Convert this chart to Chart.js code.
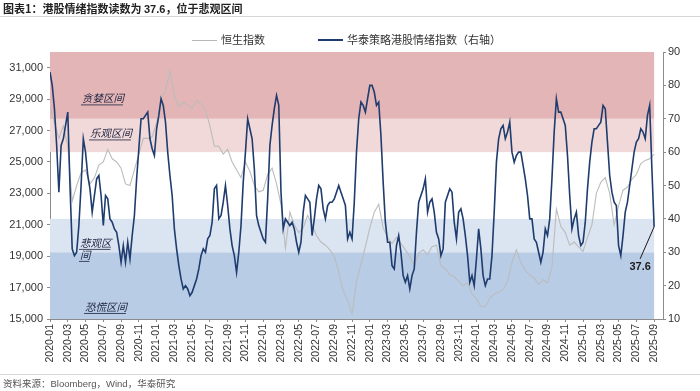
<!DOCTYPE html>
<html>
<head>
<meta charset="utf-8">
<script src="https://cdn.jsdelivr.net/npm/chart.js@4.4.0/dist/chart.umd.min.js"></script>
<style>
  html, body { margin: 0; padding: 0; background: #fff; }
  #wrap { position: relative; width: 700px; height: 391px; overflow: hidden; font-family: "Noto Sans CJK SC", "Liberation Sans", sans-serif; }
  #c { position: absolute; left: 0; top: 0; }
  .title { position: absolute; left: 3px; top: 0px; font-size: 11px; font-weight: bold; color: #222; white-space: nowrap; line-height: 16px; }
  .title b { font-family: "Liberation Sans", Arial, sans-serif; }
  .rule { position: absolute; left: 0; width: 700px; height: 1px; background: #d6d6d6; }
  .legend { position: absolute; top: 31px; font-size: 11px; color: #333; white-space: nowrap; line-height: 16px; }
  .legend span.ln { display: inline-block; width: 25px; vertical-align: middle; margin-right: 4px; position: relative; top: -1px; }
  .source { position: absolute; left: 3px; top: 376px; font-size: 9.5px; color: #555; white-space: nowrap; line-height: 14px; }
  .source .en { font-family: "Liberation Sans", Arial, sans-serif; }
</style>
</head>
<body>
<div id="wrap">
  <canvas id="c" width="700" height="391"></canvas>
  <div class="title">图表1：港股情绪指数读数为 <b>37.6</b>，位于悲观区间</div>
  <div class="rule" style="top:16px;"></div>
  <div class="legend" style="left:192px;"><span class="ln" style="border-top:1.5px solid #b7b7b7;"></span>恒生指数</div>
  <div class="legend" style="left:318px;"><span class="ln" style="border-top:2px solid #1f3c6e;"></span>华泰策略港股情绪指数（右轴）</div>
  <div class="rule" style="top:374px;"></div>
  <div class="source">资料来源：<span class="en">Bloomberg</span>，<span class="en">Wind</span>，华泰研究</div>
</div>
<script>
// ---- data ----
// Start month: 2020-01 ; sentiment sampled every quarter month, HSI every half month
const startYear = 2020;
const sentimentStep = 0.25;   // months between sentiment readings
const hsiStep = 0.5;          // months between HSI readings

const sentiment = [
  84, 80, 73, 62, 48, 62, 64, 68, 72, 50, 31, 29,
  30, 38, 50, 64,
  60, 53, 49, 42,
  47, 52, 53, 47,
  38, 47, 46, 40,
  39, 37, 36, 32,
  27, 32, 27, 33,
  28, 35, 41, 52,
  61, 70, 70, 71,
  72, 64, 61, 59,
  67, 71, 76, 74,
  69, 60, 53, 47,
  37, 31, 26, 22,
  19, 20, 19, 17,
  18, 20, 22, 25,
  29, 31, 30, 34,
  35, 39, 49, 50,
  40, 41, 45, 50,
  44, 37, 32, 29,
  24, 30, 38, 51,
  60, 70, 67, 64,
  55, 41, 38, 36,
  34, 33, 46, 62,
  68, 73, 77, 74,
  48, 37, 40, 39,
  38, 39, 37, 33,
  30, 33, 42, 47,
  46, 45, 35, 40,
  46, 50, 49, 43,
  40, 44, 45, 45,
  46, 48, 50, 48,
  46, 44, 34, 36,
  34, 45, 60, 70,
  75, 74, 72, 76,
  80, 80, 78, 74,
  75, 65, 51, 39,
  33, 33, 26, 25,
  32, 35, 30, 23,
  21, 23, 19, 23,
  25, 36, 45, 47,
  49, 52, 42, 45,
  46, 42, 36, 34,
  29, 31, 45, 47,
  49, 48, 39, 34,
  42, 43, 40, 35,
  29, 21, 23, 20,
  28, 37, 31, 23,
  20, 22, 22, 29,
  42, 57, 64, 67,
  68, 64, 66, 69,
  60, 57, 59, 60,
  60, 56, 52, 47,
  40, 40, 34, 33,
  30, 27, 30, 37,
  35, 40, 52, 66,
  76, 72, 72, 70,
  68, 59, 47, 37,
  40, 42, 35, 32,
  33, 39, 49, 57,
  63, 67, 67, 68,
  69, 74, 73, 63,
  53, 48, 45, 44,
  32, 29, 35, 42,
  45, 50, 55, 60,
  63, 64, 67, 66,
  64, 71, 74, 55,
  37.6
];

const hsi = [
  28500, 27500, 26500, 27300, 26000, 22500, 23500, 24300, 24500, 23600,
  24000, 24800, 25000, 25800, 25200, 25000, 24600, 23600, 23500, 24500,
  25500, 26500, 26500, 26600, 27500, 29000, 29600, 30800, 29200, 28500,
  28800, 28600, 28400, 28900, 28700, 28300, 27300, 26000, 26000, 25500,
  25800, 25000, 24500, 24000, 25000, 24400, 23500, 23100, 23200, 24200,
  24600, 23600, 22300, 19500, 21800, 21000, 20500, 20800, 21600, 21000,
  20300, 19900, 19700, 19400, 19000, 18000, 16800, 16200, 15300, 17400,
  18500, 19600, 20800, 21800, 22300, 20800, 20200, 19800, 20200, 19800,
  19400, 19000, 18400, 19200, 19400, 19100, 19600, 19700, 18400, 18200,
  17800, 17700, 17400, 17100, 17300, 16600, 16300, 15800, 15800, 16300,
  16600, 16700, 16900, 17400, 18600, 19400, 18600, 18100, 17800, 17600,
  17200, 17500, 17300, 18300, 22000, 20900, 20500, 19700, 19900, 19600,
  19300, 20200, 21000, 23000, 23700, 24000, 23000, 21000, 22200, 23200,
  23400, 23900, 24200, 24900, 25100, 25200,
  25500
];

// sentiment zones (right axis)
const zoneNames = ['恐慌区间', '悲观区间', '乐观区间', '贪婪区间'];
const zoneRanges = [[10, 30], [30, 40], [60, 70], [70, 90]];
const zoneColors = ['#b9cce6', '#dbe4f1', '#f1d9da', '#e4b5b7'];

const leftTickValues = [15000, 17000, 19000, 21000, 23000, 25000, 27000, 29000, 31000];
const leftRange = [15000, 32000];
const rightTickValues = [10, 20, 30, 40, 50, 60, 70, 80, 90];
const lastLabel = '37.6';

// ---- build ----
const sentPts = sentiment.map((v, i) => ({ x: i * sentimentStep, y: v }));
const hsiPts = hsi.map((v, i) => ({ x: i * hsiStep, y: v }));
const lastX = (sentiment.length - 1) * sentimentStep;

function monthLabel(v) {
  const y = startYear + Math.floor(v / 12);
  const m = (v % 12) + 1;
  return y + '-' + (m < 10 ? '0' + m : m);
}

const zonePlugin = {
  id: 'zones',
  beforeDatasetsDraw(chart) {
    const { ctx, chartArea } = chart;
    const xs = chart.scales.x, ys = chart.scales.y1;
    const x0 = xs.getPixelForValue(0), x1 = xs.getPixelForValue(lastX);
    ctx.save();
    zoneRanges.forEach((r, i) => {
      const yTop = ys.getPixelForValue(r[1]), yBot = ys.getPixelForValue(r[0]);
      ctx.fillStyle = zoneColors[i];
      ctx.fillRect(x0, yTop, x1 - x0, yBot - yTop);
    });
    // zone labels
    ctx.font = 'italic 10.5px "Noto Sans CJK SC"';
    ctx.fillStyle = '#1e2440';
    ctx.strokeStyle = '#1e2440';
    ctx.lineWidth = 0.8;
    ctx.textBaseline = 'middle';
    ctx.textAlign = 'left';
    const L = chartArea.left;
    const items = [
      [zoneNames[3], L + 32, 76.1],
      [zoneNames[2], L + 40, 65.6],
      ['悲观区', L + 30, 32.8],
      ['间', L + 30, 29.2],
      [zoneNames[0], L + 35, 13.6]
    ];
    items.forEach(([t, x, v]) => {
      const y = ys.getPixelForValue(v);
      ctx.fillText(t, x, y);
      const w = ctx.measureText(t).width;
      ctx.beginPath();
      ctx.moveTo(x - 1, y + 6.5);
      ctx.lineTo(x + w - 1, y + 6.5);
      ctx.stroke();
    });
    ctx.restore();
  },
  afterDatasetsDraw(chart) {
    const { ctx } = chart;
    const xs = chart.scales.x, ys = chart.scales.y1;
    const px = xs.getPixelForValue(lastX);
    const py = ys.getPixelForValue(sentiment[sentiment.length - 1]);
    ctx.save();
    ctx.strokeStyle = '#1a1a1a';
    ctx.lineWidth = 1;
    ctx.beginPath();
    ctx.moveTo(px, py);
    ctx.lineTo(px - 14, py + 32);
    ctx.stroke();
    ctx.font = 'bold 11px "Liberation Sans", Arial, sans-serif';
    ctx.fillStyle = '#1a1a1a';
    ctx.textAlign = 'center';
    ctx.textBaseline = 'middle';
    ctx.fillText(lastLabel, px - 14, py + 40);
    ctx.restore();
  }
};

const tickFont = { family: '"Liberation Sans", Arial, sans-serif', size: 11 };

new Chart(document.getElementById('c'), {
  type: 'line',
  data: {
    datasets: [
      {
        label: '华泰策略港股情绪指数（右轴）',
        data: sentPts,
        yAxisID: 'y1',
        borderColor: '#1f3c6e',
        borderWidth: 1.6,
        pointRadius: 0,
        tension: 0
      },
      {
        label: '恒生指数',
        data: hsiPts,
        yAxisID: 'y',
        borderColor: '#bcbcbc',
        borderWidth: 1.1,
        pointRadius: 0,
        tension: 0
      }
    ]
  },
  options: {
    responsive: false,
    devicePixelRatio: 1,
    animation: false,
    parsing: false,
    layout: { padding: { top: 52, left: 0, right: 0, bottom: 0 } },
    plugins: { legend: { display: false }, tooltip: { enabled: false } },
    scales: {
      x: {
        type: 'linear',
        min: 0,
        max: 69,
        afterFit(s) { s.height = 72; },
        border: { display: true, color: '#8c8c8c', width: 1 },
        grid: { drawOnChartArea: false, drawTicks: true, tickLength: 3, color: '#8c8c8c' },
        ticks: {
          stepSize: 2,
          includeBounds: false,
          autoSkip: false,
          minRotation: 90,
          maxRotation: 90,
          padding: 2,
          color: '#333',
          font: { family: '"Liberation Sans", Arial, sans-serif', size: 10.5 },
          callback: (v) => monthLabel(v)
        }
      },
      y: {
        position: 'left',
        min: leftRange[0],
        max: leftRange[1],
        afterFit(s) { s.width = 50; },
        afterBuildTicks(s) { s.ticks = leftTickValues.map(v => ({ value: v })); },
        border: { display: true, color: '#8c8c8c', width: 1 },
        grid: { drawOnChartArea: false, drawTicks: true, tickLength: 3, color: '#8c8c8c' },
        ticks: {
          padding: 4,
          color: '#333',
          font: tickFont,
          callback: (v) => Number(v).toLocaleString('en-US')
        }
      },
      y1: {
        position: 'right',
        min: rightTickValues[0],
        max: rightTickValues[rightTickValues.length - 1],
        afterFit(s) { s.width = 37; },
        afterBuildTicks(s) { s.ticks = rightTickValues.map(v => ({ value: v })); },
        border: { display: true, color: '#8c8c8c', width: 1 },
        grid: { drawOnChartArea: false, drawTicks: true, tickLength: 3, color: '#8c8c8c' },
        ticks: {
          padding: 2,
          color: '#333',
          font: tickFont
        }
      }
    }
  },
  plugins: [zonePlugin]
});
</script>
</body>
</html>
